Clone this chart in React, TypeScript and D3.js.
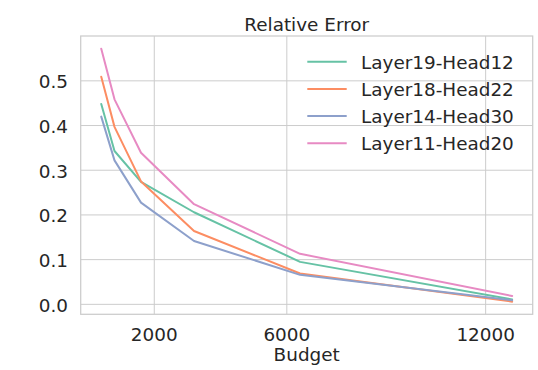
import React from "react";
import * as d3 from "d3";

const budgets = [400, 800, 1600, 3200, 6400, 12800];
const seriesNames = ["Layer19-Head12", "Layer18-Head22", "Layer14-Head30", "Layer11-Head20"];
const layer19Head12 = [0.448, 0.343, 0.274, 0.206, 0.095, 0.011];
const layer18Head22 = [0.509, 0.397, 0.275, 0.164, 0.069, 0.006];
const layer14Head30 = [0.42, 0.322, 0.2275, 0.1416, 0.066, 0.009];
const layer11Head20 = [0.572, 0.4586, 0.339, 0.224, 0.113, 0.0187];
const seriesColors = ["#66c2a5", "#fc8d62", "#8da0cb", "#e78ac3"];
const xTicks = [2000, 6000, 12000];
const yTicks = [0, 0.1, 0.2, 0.3, 0.4, 0.5];

const allSeries = [layer19Head12, layer18Head22, layer14Head30, layer11Head20];

export default function App() {
  const W = 538, H = 370;
  const left = 80.7, right = 532.7, top = 36, bottom = 314.3;
  const font = "'DejaVu Sans', sans-serif";
  const textColor = "#262626";
  const fs = 18.4;

  const [xMin, xMax] = d3.extent(budgets) as [number, number];
  const xPad = (xMax - xMin) * 0.05;
  const allVals = allSeries.flat();
  const [yMin, yMax] = d3.extent(allVals) as [number, number];
  const yPad = (yMax - yMin) * 0.05;

  const x = d3.scaleLinear().domain([xMin - xPad, xMax + xPad]).range([left, right]);
  const y = d3.scaleLinear().domain([yMin - yPad, yMax + yPad]).range([bottom, top]);

  const line = d3
    .line<number>()
    .x((_, i) => x(budgets[i]))
    .y((d) => y(d));

  const legendX = 307.3;
  const legendY0 = 61.7;
  const legendStep = 27.2;

  return (
    <svg width={W} height={H} style={{ position: "absolute", left: 0, top: 0, background: "#fff" }}>
      <rect x={0} y={0} width={W} height={H} fill="#fff" />
      {xTicks.map((t) => (
        <line key={"gx" + t} x1={x(t)} x2={x(t)} y1={top} y2={bottom} stroke="#cccccc" strokeWidth={1} />
      ))}
      {yTicks.map((t) => (
        <line key={"gy" + t} x1={left} x2={right} y1={y(t)} y2={y(t)} stroke="#cccccc" strokeWidth={1} />
      ))}
      {allSeries.map((s, i) => (
        <path
          key={"s" + i}
          d={line(s) || ""}
          fill="none"
          stroke={seriesColors[i]}
          strokeWidth={2}
          strokeLinejoin="round"
          strokeLinecap="round"
        />
      ))}
      <rect x={left} y={top} width={right - left} height={bottom - top} fill="none" stroke="#cccccc" strokeWidth={1.25} />
      {xTicks.map((t) => (
        <text key={"tx" + t} x={x(t)} y={341} textAnchor="middle" fontFamily={font} fontSize={fs} fill={textColor}>
          {String(t)}
        </text>
      ))}
      {yTicks.map((t) => (
        <text key={"ty" + t} x={68} y={y(t) + 7.5} textAnchor="end" fontFamily={font} fontSize={fs} fill={textColor}>
          {d3.format(".1f")(t)}
        </text>
      ))}
      <text x={(left + right) / 2} y={361} textAnchor="middle" fontFamily={font} fontSize={fs} fill={textColor}>
        Budget
      </text>
      <text x={(left + right) / 2} y={31} textAnchor="middle" fontFamily={font} fontSize={fs} fill={textColor}>
        Relative Error
      </text>
      {seriesNames.map((name, i) => (
        <g key={"lg" + i}>
          <line
            x1={legendX}
            x2={legendX + 39.4}
            y1={legendY0 + i * legendStep}
            y2={legendY0 + i * legendStep}
            stroke={seriesColors[i]}
            strokeWidth={2}
          />
          <text x={361} y={legendY0 + i * legendStep + 7} fontFamily={font} fontSize={fs} fill={textColor}>
            {name}
          </text>
        </g>
      ))}
    </svg>
  );
}
